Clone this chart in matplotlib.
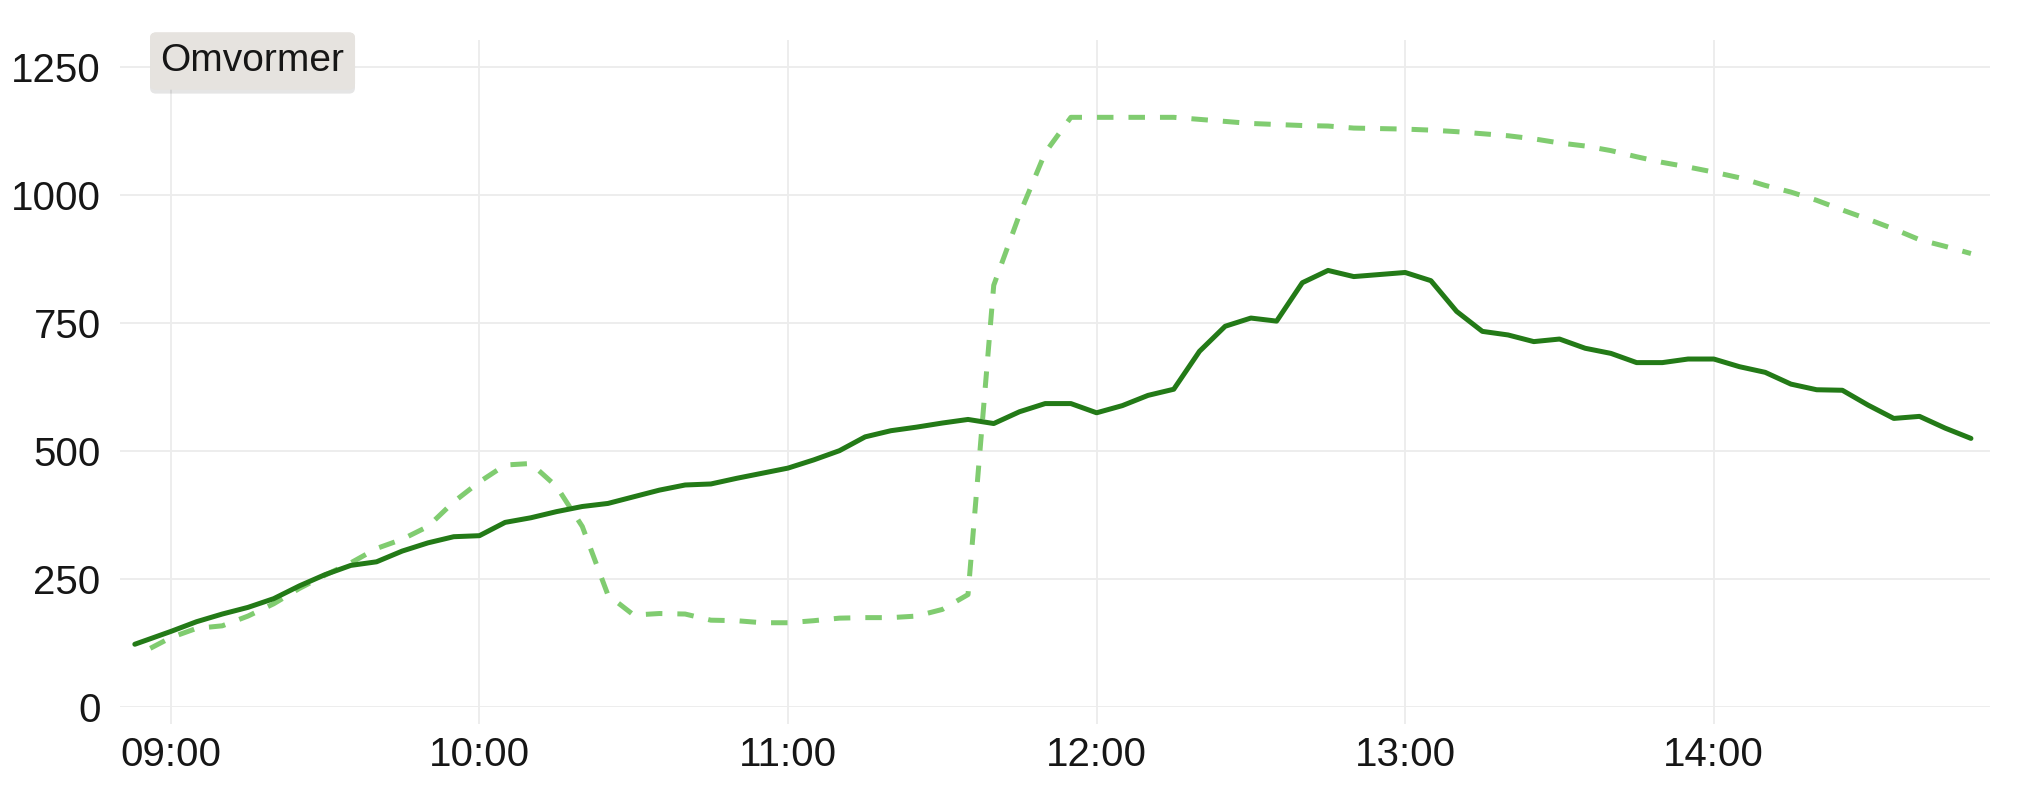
import datetime as dt
import matplotlib
matplotlib.use("Agg")
import matplotlib.pyplot as plt
import matplotlib.dates as mdates
import matplotlib.patheffects as pe
import pandas as pd

plt.rcParams['font.family'] = ['Liberation Sans', 'DejaVu Sans']

# measured output (solid) - first sample at 08:53, then every 5 min 09:00..14:50
solid_start = "08:53"
solid_vals = [122,
              147, 166, 181, 194, 211, 236, 258, 276, 283, 304, 320, 332,
              334, 360, 369, 381, 391, 397, 410, 423, 433, 435, 446, 456,
              466, 482, 500, 527, 539, 546, 554, 561, 553, 576, 592, 592,
              574, 588, 608, 620, 694, 743, 759, 753, 828, 852, 840, 844,
              848, 832, 772, 733, 726, 713, 718, 700, 690, 672, 672, 679,
              679, 664, 653, 630, 619, 618, 589, 563, 567, 544, 524]

# expected / forecast (dashed) - first sample at 08:56, then every 5 min 09:00..14:50
dashed_start = "08:56"
dashed_vals = [114,
               135, 153, 158, 177, 201, 231, 257, 281, 309, 327, 352, 400,
               439, 472, 475, 430, 352, 218, 179, 182, 181, 169, 168, 164,
               164, 168, 173, 174, 174, 177, 190, 219, 823, 961, 1082, 1151,
               1151, 1151, 1151, 1151, 1147, 1143, 1139, 1137, 1135, 1134, 1130, 1129,
               1128, 1126, 1123, 1119, 1115, 1109, 1101, 1095, 1086, 1074, 1063, 1054,
               1044, 1033, 1018, 1005, 989, 970, 952, 933, 912, 899, 885]

legend_label = "Omvormer"
y_ticks = [0, 250, 500, 750, 1000, 1250]

day = "2024-06-01 "
regular = list(pd.date_range(day + "09:00", day + "14:50", freq="5min"))
solid_times = [pd.Timestamp(day + solid_start)] + regular
dashed_times = [pd.Timestamp(day + dashed_start)] + regular

fig = plt.figure(figsize=(20.25, 8), dpi=100)
ax = fig.add_axes([0.0593, 0.1166, 0.9234, 0.8334])

ax.plot(dashed_times, dashed_vals, color='#80cc70', lw=3.6,
        dashes=(3.3, 3.0), dash_capstyle='butt', dash_joinstyle='round', zorder=3)
ax.plot(solid_times, solid_vals, color='#237a17', lw=3.6, zorder=4,
        solid_joinstyle='round', solid_capstyle='round')

ax.set_ylim(0, 1302)
ax.set_xlim(pd.Timestamp(day + "08:50:08"), pd.Timestamp(day + "14:53:42"))
ax.set_yticks(y_ticks)
ax.xaxis.set_major_locator(mdates.HourLocator())
ax.xaxis.set_major_formatter(mdates.DateFormatter('%H:%M'))

for s in ax.spines.values():
    s.set_visible(False)
ax.grid(True, color='#ececec', lw=1.3)
ax.set_axisbelow(True)
ax.tick_params(axis='y', length=0, pad=14, labelsize=29, labelcolor='#161616')
ax.tick_params(axis='x', length=12, width=1.3, color='#ececec', pad=9,
               labelsize=29, labelcolor='#161616')

t = fig.text(0.1247, 0.9238, legend_label, fontsize=28, color='#161616',
             ha='center', va='center',
             bbox=dict(boxstyle='round,pad=0.27,rounding_size=0.15',
                       fc='#e6e3df', ec='none'))
t.get_bbox_patch().set_path_effects([
    pe.withSimplePatchShadow(offset=(0, -3), shadow_rgbFace='k', alpha=0.10),
    pe.Normal()])

fig.savefig("out.png", dpi=100, facecolor='white')
